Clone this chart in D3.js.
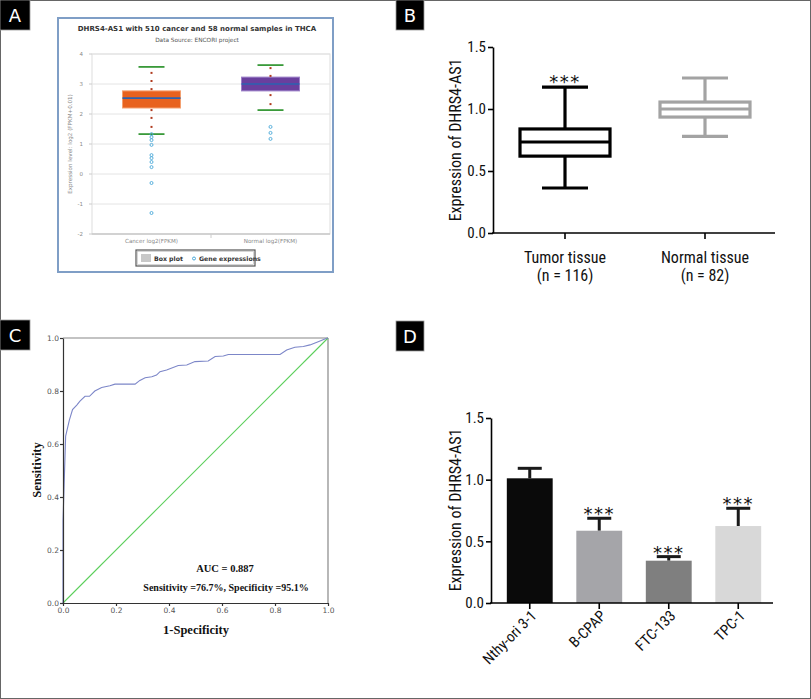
<!DOCTYPE html>
<html><head><meta charset="utf-8">
<script src="https://cdn.jsdelivr.net/npm/d3@7"></script>
<style>body{margin:0;background:#fff}</style>
</head><body><svg id="c" width="811" height="699"></svg>
<script>
// ---------- Panel A data ----------
const aCategories = ["Cancer log2(FPKM)", "Normal log2(FPKM)"];
const aLower  = [1.33, 2.13];
const aQ1     = [2.20, 2.77];
const aMedian = [2.53, 3.00];
const aQ3     = [2.77, 3.23];
const aUpper  = [3.57, 3.63];
const aInnerDots = [[3.37, 3.10, 2.83, 2.13, 1.87, 1.57], [3.53, 3.27, 2.63, 2.33]];
const aOutliers  = [[1.33, 1.23, 1.13, 0.97, 0.63, 0.53, 0.40, 0.23, -0.30, -1.30], [1.57, 1.37, 1.17]];
const aTicks = [-2, -1, 0, 1, 2, 3, 4];

// ---------- Panel B data ----------
const bCategories = ["Tumor tissue", "Normal tissue"];
const bCounts = ["(n = 116)", "(n = 82)"];
const bMin    = [0.363, 0.780];
const bQ1     = [0.620, 0.935];
const bMedian = [0.734, 1.000];
const bQ3     = [0.839, 1.056];
const bMax    = [1.177, 1.250];
const bSig    = ["***", ""];
const bTicks  = [0, 0.5, 1.0, 1.5];

// ---------- Panel C data ----------
const rocFpr = [0, 0, 0.01, 0.024, 0.036, 0.052, 0.064, 0.083, 0.10, 0.12, 0.146, 0.177, 0.196, 0.272, 0.29, 0.31, 0.335, 0.353, 0.366, 0.391, 0.435, 0.467, 0.498, 0.548, 0.574, 0.605, 0.624, 0.819, 0.844, 0.875, 0.907, 0.932, 0.963, 0.995, 1];
const rocTpr = [0, 0.31, 0.63, 0.69, 0.73, 0.747, 0.762, 0.78, 0.78, 0.80, 0.813, 0.82, 0.826, 0.826, 0.84, 0.85, 0.854, 0.86, 0.873, 0.879, 0.896, 0.898, 0.911, 0.913, 0.93, 0.932, 0.938, 0.938, 0.955, 0.965, 0.968, 0.974, 0.986, 0.999, 1];
const cTicks = [0, 0.2, 0.4, 0.6, 0.8, 1.0];

// ---------- Panel D data ----------
const dCategories = ["Nthy-ori 3-1", "B-CPAP", "FTC-133", "TPC-1"];
const dMean = [1.011, 0.586, 0.343, 0.624];
const dErr  = [0.081, 0.101, 0.033, 0.144];
const dSig  = ["", "***", "***", "***"];
const dTicks = [0, 0.5, 1.0, 1.5];

const svg = d3.select("#c");
const narrow = "'Liberation Sans Narrow','Roboto Condensed','DejaVu Sans Condensed','Arial Narrow',sans-serif";
const serif = "'Liberation Serif','Times New Roman',serif";

svg.append("rect").attr("x",0.5).attr("y",0.5).attr("width",810).attr("height",698)
  .attr("fill","#fff").attr("stroke","#666").attr("stroke-width",1);

// ================= PANEL A =================
(function(){
  const g = svg.append("g");
  g.append("rect").attr("x",58).attr("y",18).attr("width",275).attr("height",254)
    .attr("fill","#fff").attr("stroke","#7f9ec6").attr("stroke-width",2);
  g.append("text").attr("x",197).attr("y",31).attr("text-anchor","middle")
    .attr("font-family","'DejaVu Sans',sans-serif").attr("font-size",7).attr("font-weight","bold").attr("fill","#333")
    .text("DHRS4-AS1 with 510 cancer and 58 normal samples in THCA");
  g.append("text").attr("x",197).attr("y",42).attr("text-anchor","middle")
    .attr("font-family","'DejaVu Sans',sans-serif").attr("font-size",5.8).attr("fill","#555")
    .text("Data Source: ENCORI project");

  const y = d3.scaleLinear().domain([-2,4]).range([234,54]);
  const x = d3.scaleBand().domain(aCategories).range([92,330]);
  g.append("rect").attr("x",92).attr("y",54).attr("width",238).attr("height",180)
    .attr("fill","none").attr("stroke","#ddd");
  aTicks.forEach(t=>{
    g.append("line").attr("x1",92).attr("x2",330).attr("y1",y(t)).attr("y2",y(t)).attr("stroke","#e4e4e4");
    g.append("text").attr("x",83).attr("y",y(t)+2).attr("text-anchor","end")
      .attr("font-family","'DejaVu Sans',sans-serif").attr("font-size",5.5).attr("fill","#888").text(t);
    g.append("line").attr("x1",89).attr("x2",92).attr("y1",y(t)).attr("y2",y(t)).attr("stroke","#ccc");
  });
  g.append("line").attr("x1",92).attr("x2",330).attr("y1",234).attr("y2",234).attr("stroke","#bbb");
  g.append("line").attr("x1",211).attr("x2",211).attr("y1",234).attr("y2",238).attr("stroke","#ccc");
  g.append("text").attr("transform","translate(72,144) rotate(-90)").attr("text-anchor","middle")
    .attr("font-family","'DejaVu Sans',sans-serif").attr("font-size",5.6).attr("fill","#888")
    .text("Expression level: log2 (FPKM+0.01)");
  aCategories.forEach((c,i)=>{
    const cx = x(c)+x.bandwidth()/2;
    g.append("text").attr("x",cx).attr("y",243).attr("text-anchor","middle")
      .attr("font-family","'DejaVu Sans',sans-serif").attr("font-size",5.6).attr("fill","#888").text(c);
    const fill = i===0 ? "#e8621e" : "#6a3f9e";
    const strokeC = i===0 ? "#f4a070" : "#9c80c8";
    g.append("rect").attr("x",cx-29).attr("y",y(aQ3[i])).attr("width",58).attr("height",y(aQ1[i])-y(aQ3[i]))
      .attr("fill",fill).attr("stroke",strokeC).attr("stroke-width",1);
    g.append("line").attr("x1",cx-29).attr("x2",cx+29).attr("y1",y(aMedian[i])).attr("y2",y(aMedian[i]))
      .attr("stroke","#2b63b0").attr("stroke-width",1.6);
    [aUpper[i], aLower[i]].forEach(v=>{
      g.append("line").attr("x1",cx-13).attr("x2",cx+13).attr("y1",y(v)).attr("y2",y(v))
        .attr("stroke","#3a9a3a").attr("stroke-width",1.8);
    });
    aInnerDots[i].forEach(v=>{
      g.append("rect").attr("x",cx-1).attr("y",y(v)-1).attr("width",2).attr("height",2).attr("fill","#b03a1e");
    });
    aOutliers[i].forEach(v=>{
      g.append("circle").attr("cx",cx).attr("cy",y(v)).attr("r",1.5)
        .attr("fill","none").attr("stroke","#4aa8d8").attr("stroke-width",0.9);
    });
  });
  g.append("rect").attr("x",136).attr("y",250).attr("width",119).attr("height",16)
    .attr("fill","#fff").attr("stroke","#555").attr("stroke-width",1.2);
  g.append("rect").attr("x",137.5).attr("y",251.5).attr("width",116).attr("height",13)
    .attr("fill","none").attr("stroke","#bbb").attr("stroke-width",0.6);
  g.append("rect").attr("x",141).attr("y",254).attr("width",10).attr("height",8).attr("fill","#c8c8c8");
  g.append("text").attr("x",154).attr("y",261).attr("font-family","'DejaVu Sans',sans-serif")
    .attr("font-size",6.2).attr("font-weight","bold").attr("fill","#333").text("Box plot");
  g.append("circle").attr("cx",194).attr("cy",258.5).attr("r",1.5).attr("fill","none").attr("stroke","#4aa8d8");
  g.append("text").attr("x",199).attr("y",261).attr("font-family","'DejaVu Sans',sans-serif")
    .attr("font-size",6.2).attr("font-weight","bold").attr("fill","#333").text("Gene expressions");
})();

// ================= PANEL B =================
(function(){
  const g = svg.append("g");
  const y = d3.scaleLinear().domain([0,1.5]).range([233,47]);
  const x = d3.scaleBand().domain(bCategories).range([495,775]);
  const ya = g.append("g").attr("transform","translate(493,0)")
    .call(d3.axisLeft(y).tickValues(bTicks).tickFormat(d3.format(".1f")).tickSize(5).tickSizeOuter(0));
  ya.selectAll("path,line").attr("stroke","#000").attr("stroke-width",1.6);
  ya.selectAll("text").attr("font-family",narrow).attr("font-size",15).attr("fill","#111").attr("x",-7);
  const xa = g.append("g").attr("transform","translate(0,233)")
    .call(d3.axisBottom(x).tickSize(6).tickSizeOuter(0).tickFormat(""));
  xa.select("path").attr("d","M492,0H775");
  xa.selectAll("path,line").attr("stroke","#000").attr("stroke-width",1.6);
  g.append("text").attr("transform","translate(461,140) rotate(-90)").attr("text-anchor","middle")
    .attr("font-family",narrow).attr("font-size",16).attr("fill","#111").text("Expression of DHRS4-AS1");
  bCategories.forEach((c,i)=>{
    const cx = x(c)+x.bandwidth()/2;
    const col = i===0 ? "#000" : "#a3a3a3";
    const sw = 3.2;
    g.append("line").attr("x1",cx).attr("x2",cx).attr("y1",y(bMax[i])).attr("y2",y(bQ3[i])).attr("stroke",col).attr("stroke-width",sw);
    g.append("line").attr("x1",cx).attr("x2",cx).attr("y1",y(bQ1[i])).attr("y2",y(bMin[i])).attr("stroke",col).attr("stroke-width",sw);
    [bMax[i], bMin[i]].forEach(v=>{
      g.append("line").attr("x1",cx-23).attr("x2",cx+23).attr("y1",y(v)).attr("y2",y(v)).attr("stroke",col).attr("stroke-width",sw);
    });
    g.append("rect").attr("x",cx-45).attr("y",y(bQ3[i])).attr("width",90).attr("height",y(bQ1[i])-y(bQ3[i]))
      .attr("fill","#fff").attr("stroke",col).attr("stroke-width",sw);
    g.append("line").attr("x1",cx-45).attr("x2",cx+45).attr("y1",y(bMedian[i])).attr("y2",y(bMedian[i])).attr("stroke",col).attr("stroke-width",sw);
    if (bSig[i]) g.append("text").attr("x",cx).attr("y",y(bMax[i])+1).attr("text-anchor","middle")
      .attr("font-family","'DejaVu Sans',sans-serif").attr("font-size",18).attr("letter-spacing",1.5).attr("fill","#111").text(bSig[i]);
    g.append("text").attr("x",cx).attr("y",263).attr("text-anchor","middle")
      .attr("font-family",narrow).attr("font-size",16).attr("fill","#111").text(c);
    g.append("text").attr("x",cx).attr("y",281).attr("text-anchor","middle")
      .attr("font-family",narrow).attr("font-size",16).attr("fill","#111").text(bCounts[i]);
  });
})();

// ================= PANEL C =================
(function(){
  const g = svg.append("g");
  const x = d3.scaleLinear().domain([0,1]).range([63,328]);
  const y = d3.scaleLinear().domain([0,1]).range([603,338]);
  g.append("line").attr("x1",63).attr("x2",328).attr("y1",338).attr("y2",338).attr("stroke","#888").attr("stroke-width",1.2);
  g.append("line").attr("x1",328).attr("x2",328).attr("y1",338).attr("y2",603).attr("stroke","#888").attr("stroke-width",1.2);
  g.append("path").attr("d", d3.line()([[x(0),y(0)],[x(1),y(1)]]))
    .attr("fill","none").attr("stroke","#5ccf5c").attr("stroke-width",1.1);
  const line = d3.line().x((d,i)=>x(rocFpr[i])).y((d,i)=>y(rocTpr[i]));
  g.append("path").datum(rocFpr).attr("d",line).attr("fill","none").attr("stroke","#7c86c8").attr("stroke-width",1.1);
  const ya = g.append("g").attr("transform","translate(63,0)")
    .call(d3.axisLeft(y).tickValues(cTicks).tickFormat(d3.format(".1f")).tickSize(3).tickSizeOuter(0));
  ya.selectAll("path,line").attr("stroke","#333").attr("stroke-width",1.2);
  ya.selectAll("text").attr("font-family","'DejaVu Sans',sans-serif").attr("font-size",7.5).attr("fill","#555").attr("x",-4);
  const xa = g.append("g").attr("transform","translate(0,603)")
    .call(d3.axisBottom(x).tickValues(cTicks).tickFormat(d3.format(".1f")).tickSize(3).tickSizeOuter(0));
  xa.selectAll("path,line").attr("stroke","#333").attr("stroke-width",1.2);
  xa.selectAll("text").attr("font-family","'DejaVu Sans',sans-serif").attr("font-size",7.5).attr("fill","#555").attr("y",5);
  g.append("text").attr("transform","translate(41,470) rotate(-90)").attr("text-anchor","middle")
    .attr("font-family",serif).attr("font-size",12.5).attr("font-weight","bold").attr("fill","#111").text("Sensitivity");
  g.append("text").attr("x",196).attr("y",634).attr("text-anchor","middle")
    .attr("font-family",serif).attr("font-size",12.5).attr("font-weight","bold").attr("fill","#111").text("1-Specificity");
  g.append("text").attr("x",225).attr("y",572).attr("text-anchor","middle")
    .attr("font-family",serif).attr("font-size",10.5).attr("font-weight","bold").attr("fill","#111").text("AUC = 0.887");
  g.append("text").attr("x",226).attr("y",591).attr("text-anchor","middle")
    .attr("font-family",serif).attr("font-size",10).attr("font-weight","bold").attr("fill","#111").text("Sensitivity =76.7%, Specificity =95.1%");
})();

// ================= PANEL D =================
(function(){
  const g = svg.append("g");
  const y = d3.scaleLinear().domain([0,1.5]).range([603,418]);
  const x = d3.scaleBand().domain(dCategories).range([495,773]).paddingInner(0.34).paddingOuter(0.17);
  const colors = ["#0a0a0a","#a5a5a9","#7f7f7f","#d8d8d8"];
  dCategories.forEach((c,i)=>{
    const cx = x(c)+x.bandwidth()/2;
    g.append("line").attr("x1",cx).attr("x2",cx).attr("y1",y(dMean[i])).attr("y2",y(dMean[i]+dErr[i]))
      .attr("stroke","#1a1a1a").attr("stroke-width",3);
    g.append("line").attr("x1",cx-12).attr("x2",cx+12).attr("y1",y(dMean[i]+dErr[i])).attr("y2",y(dMean[i]+dErr[i]))
      .attr("stroke","#1a1a1a").attr("stroke-width",3);
    g.append("rect").attr("x",x(c)).attr("y",y(dMean[i])).attr("width",x.bandwidth()).attr("height",y(0)-y(dMean[i]))
      .attr("fill",colors[i]);
    if (dSig[i]) g.append("text").attr("x",cx).attr("y",y(dMean[i]+dErr[i])+2).attr("text-anchor","middle")
      .attr("font-family","'DejaVu Sans',sans-serif").attr("font-size",18).attr("letter-spacing",1.5).attr("fill","#111").text(dSig[i]);
  });
  const ya = g.append("g").attr("transform","translate(491,0)")
    .call(d3.axisLeft(y).tickValues(dTicks).tickFormat(d3.format(".1f")).tickSize(5).tickSizeOuter(0));
  ya.selectAll("path,line").attr("stroke","#000").attr("stroke-width",1.6);
  ya.selectAll("text").attr("font-family",narrow).attr("font-size",15).attr("fill","#111").attr("x",-7);
  const xa = g.append("g").attr("transform","translate(0,603)")
    .call(d3.axisBottom(x).tickSize(6).tickSizeOuter(0));
  xa.select("path").attr("d","M490,0H773");
  xa.selectAll("path,line").attr("stroke","#000").attr("stroke-width",1.6);
  xa.selectAll("text").attr("font-family",narrow).attr("font-size",15).attr("fill","#111")
    .attr("text-anchor","end").attr("transform","translate(4,10) rotate(-45)").attr("dy","0.35em").attr("y",0).attr("x",0);
  g.append("text").attr("transform","translate(461,510) rotate(-90)").attr("text-anchor","middle")
    .attr("font-family",narrow).attr("font-size",16).attr("fill","#111").text("Expression of DHRS4-AS1");
})();

// ================= Panel labels =================
[["A",0,0,30,30],["B",396,0,28,30],["C",0,320,30,30],["D",396,321,28,30]].forEach(([t,x0,y0,w,h])=>{
  svg.append("rect").attr("x",x0).attr("y",y0).attr("width",w).attr("height",h).attr("fill","#000")
    .attr("stroke","#999").attr("stroke-width",0.8);
  svg.append("text").attr("x",x0+w/2).attr("y",y0+h/2+6.5).attr("text-anchor","middle")
    .attr("font-family","'DejaVu Sans',sans-serif").attr("font-size",18).attr("fill","#fff").text(t);
});
</script></body></html>
